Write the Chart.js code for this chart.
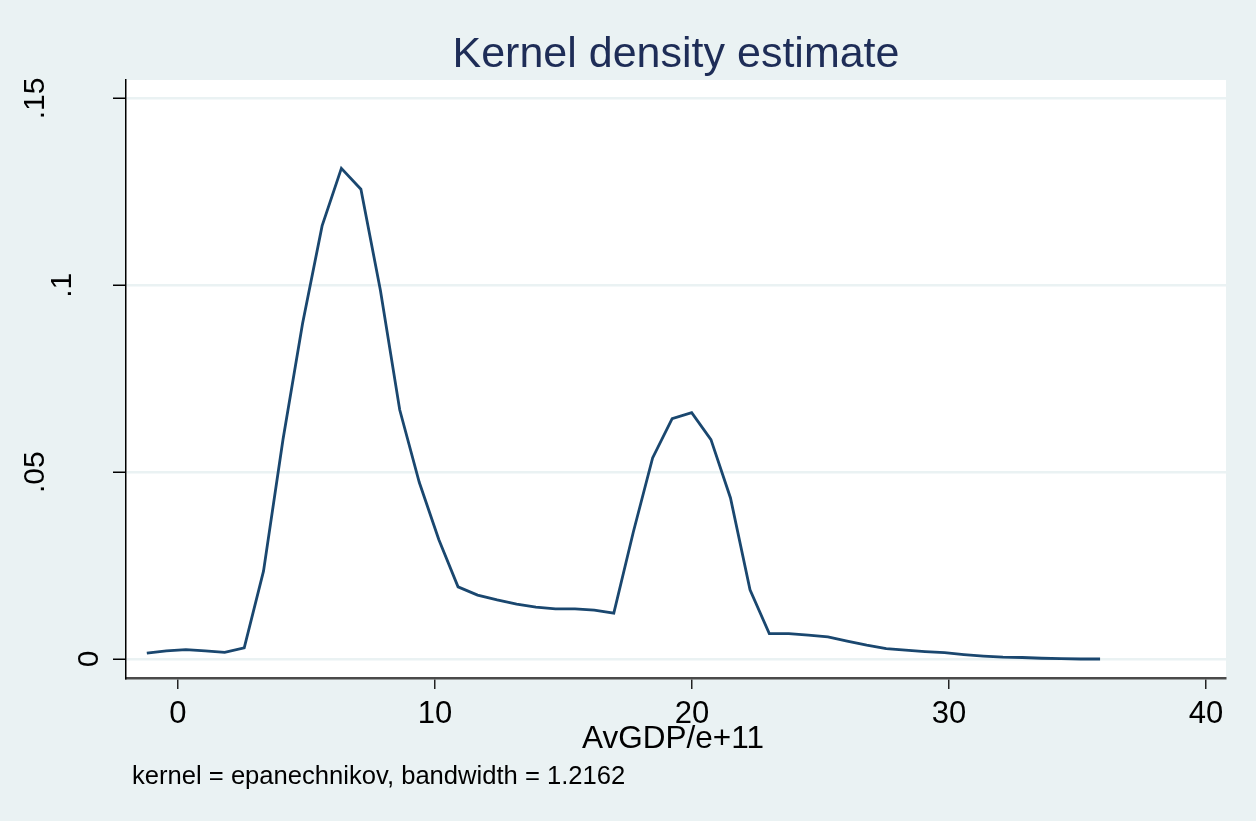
<!DOCTYPE html>
<html>
<head>
<meta charset="utf-8">
<title>Kernel density estimate</title>
<script src="https://cdn.jsdelivr.net/npm/chart.js@4.4.0/dist/chart.umd.min.js"></script>
<style>
    html, body { margin: 0; padding: 0; background: #eaf2f3; }
    #wrap { width: 1256px; height: 821px; position: relative; }
</style>
</head>
<body>
<div id="wrap"><canvas id="kdensity"></canvas></div>
<script>
// --- DATOS ---
const gridX = [
    -1.21, -0.45, 0.31, 1.06, 1.82, 2.58, 3.33, 4.09, 4.85, 5.61,
    6.36, 7.12, 7.88, 8.63, 9.39, 10.15, 10.90, 11.66, 12.42, 13.18,
    13.93, 14.69, 15.45, 16.20, 16.96, 17.72, 18.47, 19.23, 19.99, 20.74,
    21.50, 22.26, 23.01, 23.77, 24.53, 25.29, 26.04, 26.80, 27.56, 28.31,
    29.07, 29.83, 30.58, 31.34, 32.10, 32.85, 33.61, 34.37, 35.13, 35.88
];
const density = [
    0.0016, 0.0022, 0.0025, 0.0022, 0.0018, 0.0030, 0.0235, 0.0588, 0.0898, 0.1159,
    0.1313, 0.1257, 0.0986, 0.0667, 0.0473, 0.0320, 0.0193, 0.0171, 0.0158, 0.0147,
    0.0139, 0.0134, 0.0134, 0.0131, 0.0123, 0.0340, 0.0538, 0.0643, 0.0659, 0.0587,
    0.0431, 0.0185, 0.0068, 0.0068, 0.0064, 0.0059, 0.0048, 0.0037, 0.0028, 0.0024,
    0.0020, 0.0017, 0.0012, 0.0008, 0.0005, 0.0004, 0.0002, 0.0001, 0.0000, 0.0000
];
const xTicks = [0, 10, 20, 30, 40];
const yTicks = [0, 0.05, 0.1, 0.15];
const yTickLabels = ['0', '.05', '.1', '.15'];

const titleText = 'Kernel density estimate';
const xTitle = 'AvGDP/e+11';
const noteText = 'kernel = epanechnikov, bandwidth = 1.2162';

const FONT = '"Liberation Sans", Arial, sans-serif';
const BG = '#eaf2f3';

// Fondo, area blanca y textos al estilo Stata
const stataPlugin = {
    id: 'stata',
    beforeDraw(chart) {
        const { ctx, chartArea: a } = chart;
        ctx.save();
        ctx.fillStyle = BG;
        ctx.fillRect(0, 0, chart.width, chart.height);
        ctx.fillStyle = '#ffffff';
        ctx.fillRect(a.left, a.top, a.right - a.left, a.bottom - a.top);
        ctx.restore();
    },
    afterDraw(chart) {
        const { ctx, chartArea: a } = chart;
        const yScale = chart.scales.y;
        const midX = (a.left + a.right) / 2;
        ctx.save();

        // titulo
        ctx.fillStyle = '#1e2d57';
        ctx.font = '43px ' + FONT;
        ctx.textAlign = 'center';
        ctx.textBaseline = 'alphabetic';
        ctx.fillText(titleText, midX, 67);

        // etiquetas del eje Y, giradas (Stata las centra segun el numero de caracteres)
        ctx.fillStyle = '#000';
        ctx.font = '30px ' + FONT;
        ctx.textBaseline = 'middle';
        yTicks.forEach((v, i) => {
            const label = yTickLabels[i];
            const py = yScale.getPixelForValue(v);
            const cx = a.left - 10 - 26.75 * label.length;
            ctx.save();
            ctx.translate(cx, py);
            ctx.rotate(-Math.PI / 2);
            ctx.fillText(label, 0, 0);
            ctx.restore();
        });

        // titulo del eje X
        ctx.textBaseline = 'alphabetic';
        ctx.font = '31.5px ' + FONT;
        ctx.fillText(xTitle, midX - 3, 748);

        // nota
        ctx.textAlign = 'left';
        ctx.font = '25.6px ' + FONT;
        ctx.fillText(noteText, 132, 784);
        ctx.restore();
    }
};

const ctx = document.getElementById('kdensity');

new Chart(ctx, {
    type: 'line',
    data: {
        datasets: [{
            label: 'density',
            data: gridX.map((x, i) => ({ x: x, y: density[i] })),
            borderColor: '#1a476f',
            borderWidth: 2.8,
            pointRadius: 0,
            fill: false,
            tension: 0
        }]
    },
    options: {
        responsive: true,
        maintainAspectRatio: false,
        animation: false,
        layout: { padding: { left: 0, right: 30, top: 80, bottom: 0 } },
        plugins: {
            legend: { display: false },
            tooltip: { enabled: false },
            title: { display: false }
        },
        scales: {
            x: {
                type: 'linear',
                min: -2.02,
                max: 40.78,
                afterBuildTicks: (scale) => { scale.ticks = xTicks.map(v => ({ value: v })); },
                afterFit: (scale) => { scale.height = 143; },
                border: { color: '#4a4a4a', width: 2.5 },
                grid: { drawOnChartArea: false, tickLength: 11, color: '#222', lineWidth: 1.5 },
                ticks: {
                    color: '#000',
                    font: { family: FONT, size: 31 },
                    padding: 7,
                    maxRotation: 0,
                    autoSkip: false
                }
            },
            y: {
                type: 'linear',
                min: -0.00508,
                max: 0.15494,
                afterBuildTicks: (scale) => { scale.ticks = yTicks.map(v => ({ value: v })); },
                afterFit: (scale) => { scale.width = 126; },
                border: { color: '#000', width: 1.5 },
                grid: {
                    color: BG,
                    lineWidth: 2.5,
                    tickLength: 13,
                    tickColor: '#000',
                    tickWidth: 1.5
                },
                ticks: { display: false }
            }
        }
    },
    plugins: [stataPlugin]
});
</script>
</body>
</html>
